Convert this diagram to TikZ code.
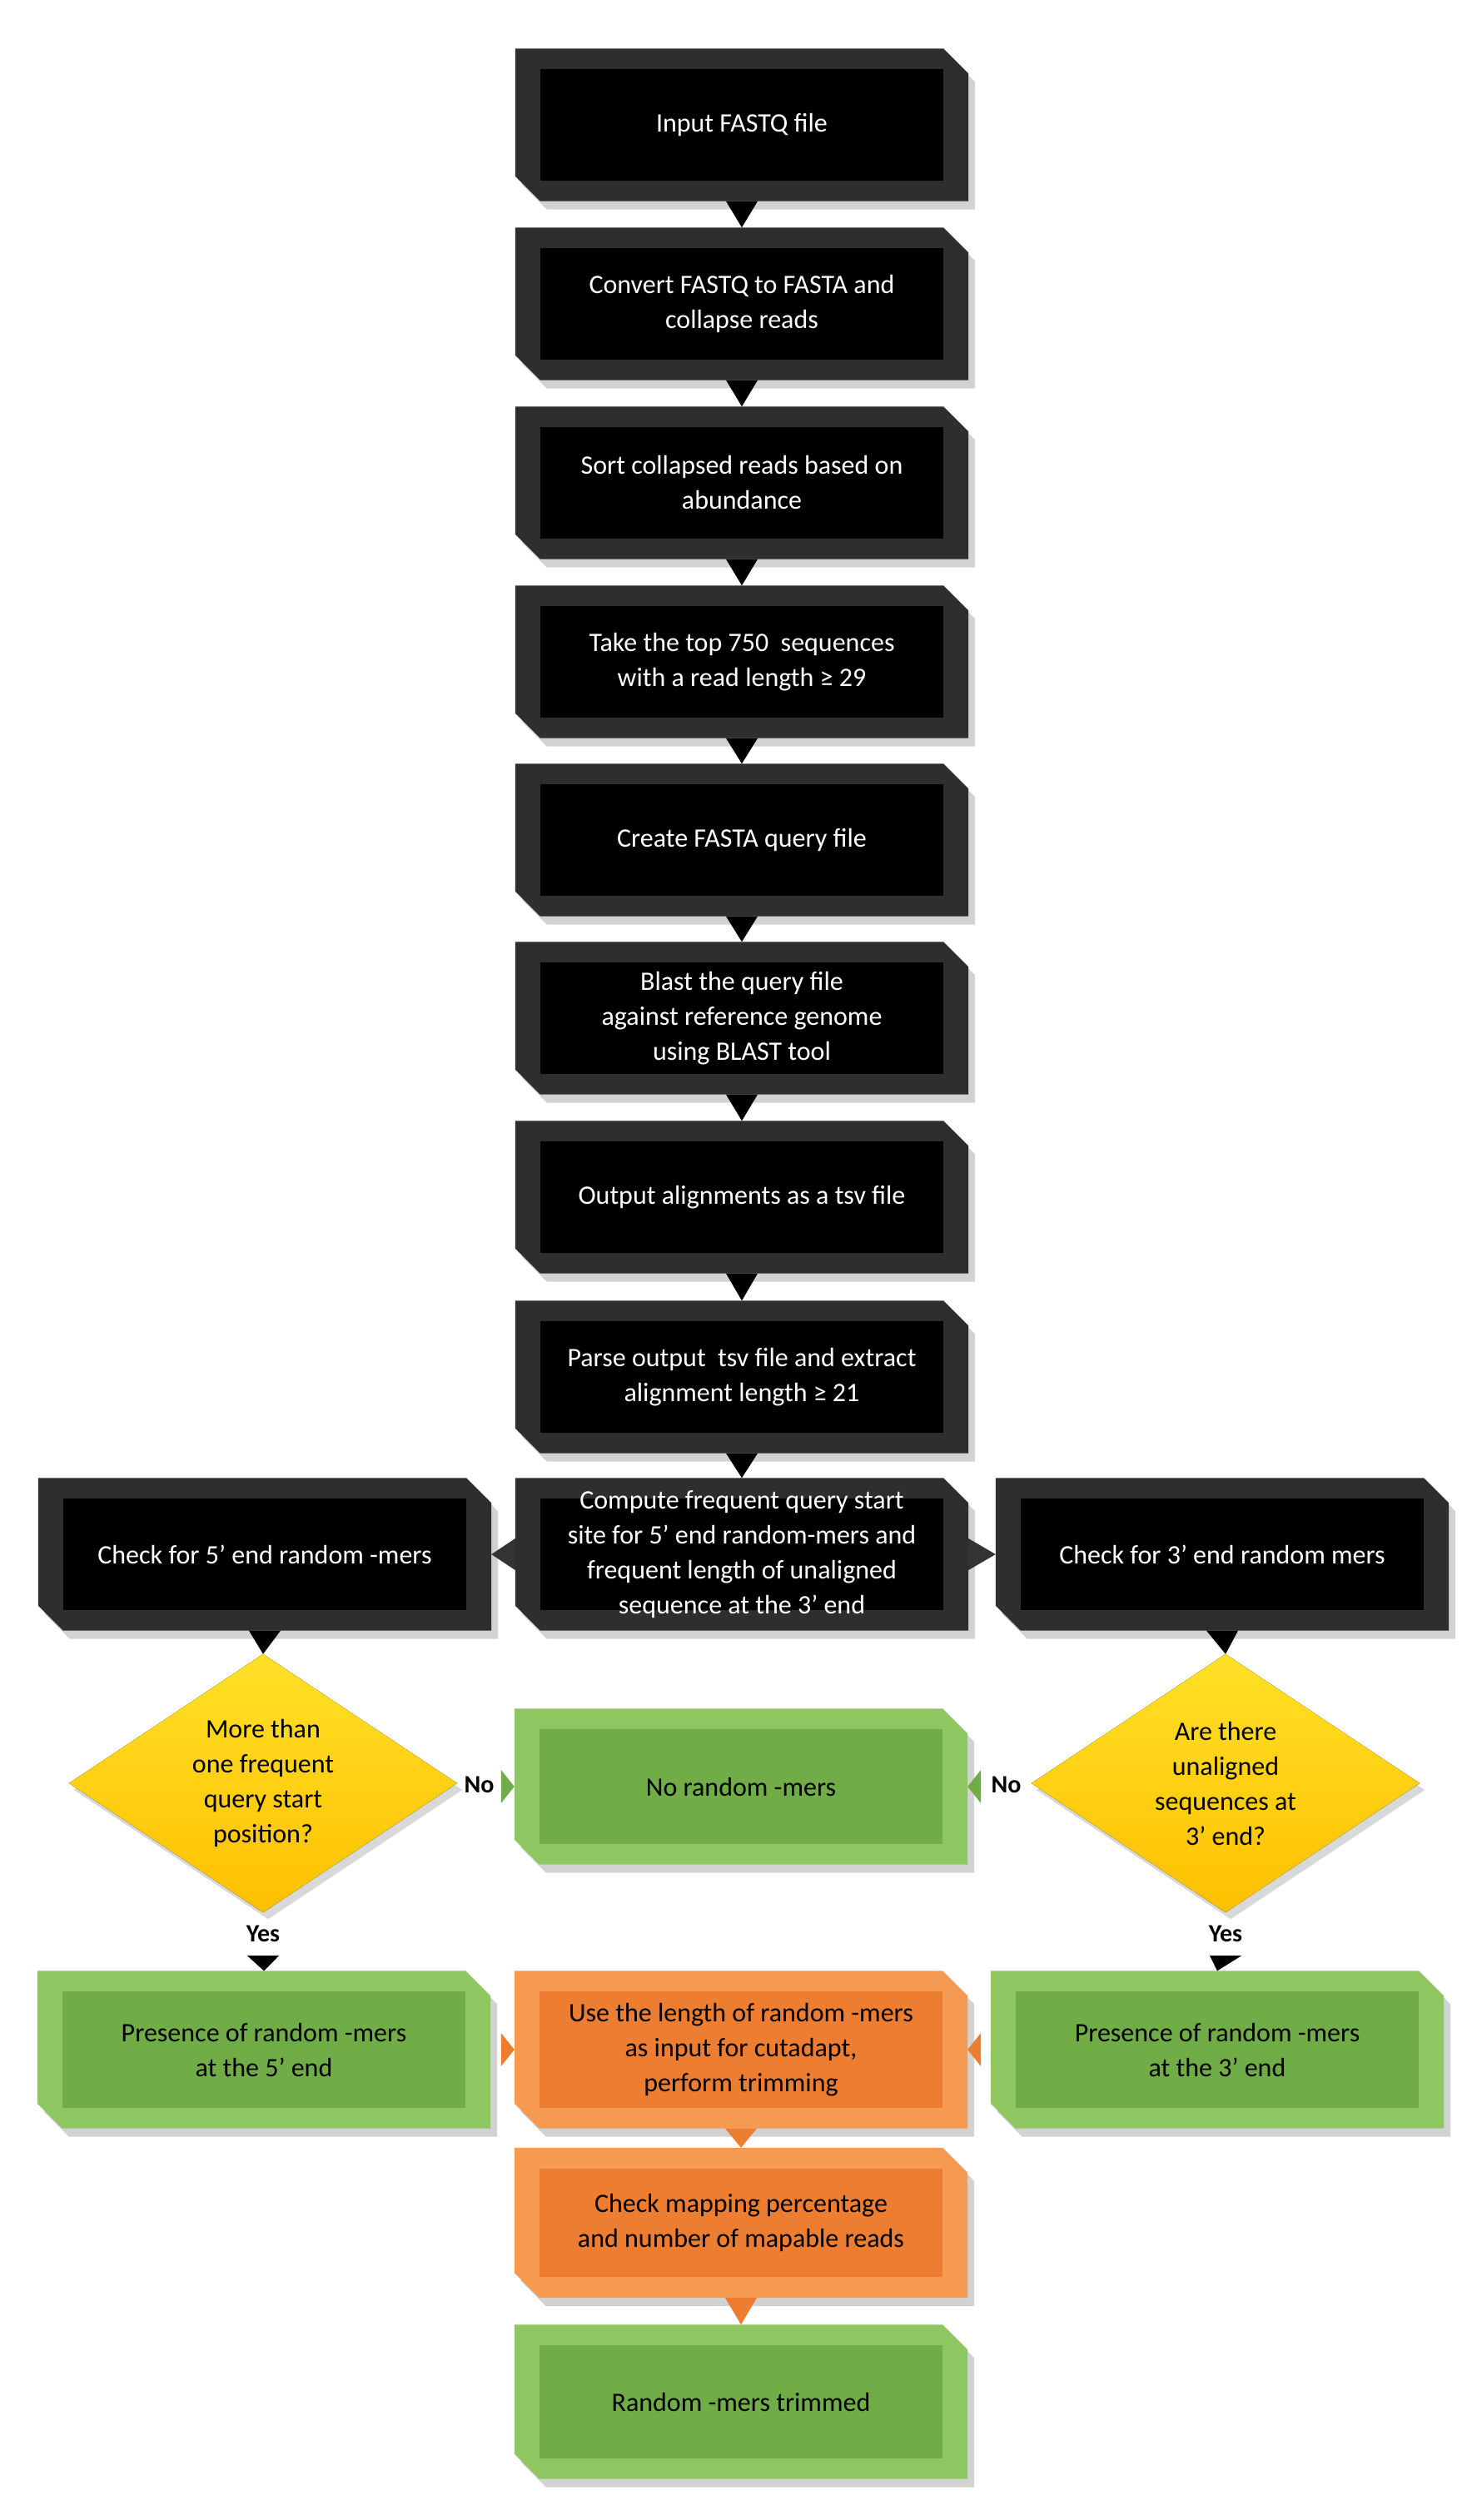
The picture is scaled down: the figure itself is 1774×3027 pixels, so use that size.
\documentclass[tikz,border=0pt]{standalone}
\usepackage{fontspec}
\setmainfont{Carlito}
\definecolor{gr}{RGB}{112,173,71}
\definecolor{grl}{RGB}{150,205,105}
\definecolor{orn}{RGB}{237,125,49}
\definecolor{ornl}{RGB}{250,165,95}
\definecolor{yel}{RGB}{255,192,0}
\definecolor{yell}{RGB}{255,225,40}
\newcommand\bevshape[3]{%
 \fill[black!35,opacity=0.5] ([shift={(8pt,-10pt)}]#1.north west) -- ([shift={(-22pt,-10pt)}]#1.north east) -- ([shift={(8pt,-40pt)}]#1.north east) -- ([shift={(8pt,-10pt)}]#1.south east) -- ([shift={(38pt,-10pt)}]#1.south west) -- ([shift={(8pt,20pt)}]#1.south west) -- cycle;
 \fill[#3] (#1.north west) -- ([xshift=-30pt]#1.north east) -- ([yshift=-30pt]#1.north east) -- (#1.south east) -- ([xshift=30pt]#1.south west) -- ([yshift=30pt]#1.south west) -- cycle;
 \fill[#2] ([shift={(30pt,-25pt)}]#1.north west) rectangle ([shift={(-30pt,25pt)}]#1.south east);}
\begin{document}
\begin{tikzpicture}[x=1pt,y=-1pt,
 box/.style={draw=none,minimum width=544pt,minimum height=183pt,align=center,inner sep=0pt,font=\fontsize{32}{42}\selectfont},
 wbox/.style={box,text=white},
 lab/.style={font=\fontsize{30}{36}\selectfont\bfseries}]
\useasboundingbox[fill=white] (0,0) rectangle (1774,3027);
% nodes
\node[wbox] (n1) at (891,150) {};
\node[wbox] (n2) at (891,365) {};
\node[wbox] (n3) at (891,580) {};
\node[wbox] (n4) at (891,795) {};
\node[wbox] (n5) at (891,1009) {};
\node[wbox] (n6) at (891,1223) {};
\node[wbox] (n7) at (891,1438) {};
\node[wbox] (n8) at (891,1654) {};
\node[wbox] (n9) at (891,1867) {};
\node[wbox] (l9) at (318,1867) {};
\node[wbox] (r9) at (1468,1867) {};
\node[box,minimum width=466pt,minimum height=310pt] (dl) at (316,2142) {};
\node[box,minimum width=466pt,minimum height=310pt] (dr) at (1472,2142) {};
\node[box,minimum height=187pt] (no) at (890,2146) {};
\node[box,minimum height=189pt] (pl) at (317,2462) {};
\node[box,minimum height=189pt] (use) at (890,2462) {};
\node[box,minimum height=189pt] (pr) at (1462,2462) {};
\node[box,minimum height=180pt] (chk) at (890,2670) {};
\node[box,minimum height=185pt] (fin) at (890,2885) {};
% shapes
\foreach \n in {n1,n2,n3,n4,n5,n6,n7,n8,n9,l9,r9}{\bevshape{\n}{black}{black!82}}
\foreach \n in {no,pl,pr,fin}{\bevshape{\n}{gr}{grl!80!gr}}
\foreach \n in {use,chk}{\bevshape{\n}{orn}{ornl!70!orn}}
\foreach \d in {dl,dr}{
 \fill[black!30,opacity=0.5] ([shift={(6pt,-8pt)}]\d.north) -- ([shift={(6pt,-8pt)}]\d.east) -- ([shift={(6pt,-8pt)}]\d.south) -- ([shift={(6pt,-8pt)}]\d.west) -- cycle;
 \fill[top color=yell,bottom color=yel] (\d.north) -- (\d.east) -- (\d.south) -- (\d.west) -- cycle;}
% texts
\node[wbox] at (n1) {Input FASTQ file};
\node[wbox] at (n2) {Convert FASTQ to FASTA and\\collapse reads};
\node[wbox] at (n3) {Sort collapsed reads based on\\abundance};
\node[wbox] at (n4) {Take the top 750\ \ sequences\\with a read length ≥ 29};
\node[wbox] at (n5) {Create FASTA query file};
\node[wbox] at (n6) {Blast the query file\\against reference genome\\using BLAST tool};
\node[wbox] at (n7) {Output alignments as a tsv file};
\node[wbox] at (n8) {Parse output\ \ tsv file and extract\\alignment length ≥ 21};
\node[wbox] at (n9) {Compute frequent query start\\site for 5’ end random-mers and\\frequent length of unaligned\\sequence at the 3’ end};
\node[wbox] at (l9) {Check for 5’ end random -mers};
\node[wbox] at (r9) {Check for 3’ end random mers};
\node[box,minimum width=0pt,minimum height=0pt] at (dl) {More than\\one frequent\\query start\\position?};
\node[box,minimum width=0pt,minimum height=0pt] at (dr) {Are there\\unaligned\\sequences at\\3’ end?};
\node[box] at (no) {No random -mers};
\node[box] at (pl) {Presence of random -mers\\at the 5’ end};
\node[box] at (use) {Use the length of random -mers\\as input for cutadapt,\\perform trimming};
\node[box] at (pr) {Presence of random -mers\\at the 3’ end};
\node[box] at (chk) {Check mapping percentage\\and number of mapable reads};
\node[box] at (fin) {Random -mers trimmed};
% connectors
\foreach \a/\b in {n1/n2,n2/n3,n3/n4,n4/n5,n5/n6,n6/n7,n7/n8,n8/n9,l9/dl,r9/dr}{
 \fill[black] ([xshift=-19pt]\a.south) -- ([xshift=19pt]\a.south) -- (\b.north) -- cycle;}
\fill[black!80] ([yshift=19pt]n9.west) -- ([yshift=-19pt]n9.west) -- (l9.east) -- cycle;
\fill[black!80] ([yshift=19pt]n9.east) -- ([yshift=-19pt]n9.east) -- (r9.east -| r9.west) -- cycle;
% No
\fill[gr] ([shift={(-16pt,20pt)}]no.west) -- ([shift={(-16pt,-20pt)}]no.west) -- (no.west) -- cycle;
\draw[draw=none] (dl.east) -- ([xshift=-16pt]no.west) node[lab,pos=0.5] {No};
\fill[gr] ([shift={(16pt,20pt)}]no.east) -- ([shift={(16pt,-20pt)}]no.east) -- (no.east) -- cycle;
\draw[draw=none] (dr.west) -- ([xshift=16pt]no.east) node[lab,pos=0.5] {No};
% Yes
\foreach \d/\p in {dl/pl,dr/pr}{
 \node[lab] (y\d) at ([yshift=-26pt]\d.south) {Yes};
 \fill[black] ([shift={(-19pt,-52pt)}]\d.south) -- ([shift={(19pt,-52pt)}]\d.south) -- (\p.north) -- cycle;}
% orange
\fill[orn] ([shift={(-16pt,20pt)}]use.west) -- ([shift={(-16pt,-20pt)}]use.west) -- (use.west) -- cycle;
\fill[orn] ([shift={(16pt,20pt)}]use.east) -- ([shift={(16pt,-20pt)}]use.east) -- (use.east) -- cycle;
\foreach \a/\b in {use/chk,chk/fin}{
 \fill[orn] ([xshift=-19pt]\a.south) -- ([xshift=19pt]\a.south) -- (\b.north) -- cycle;}
\end{tikzpicture}
\end{document}
